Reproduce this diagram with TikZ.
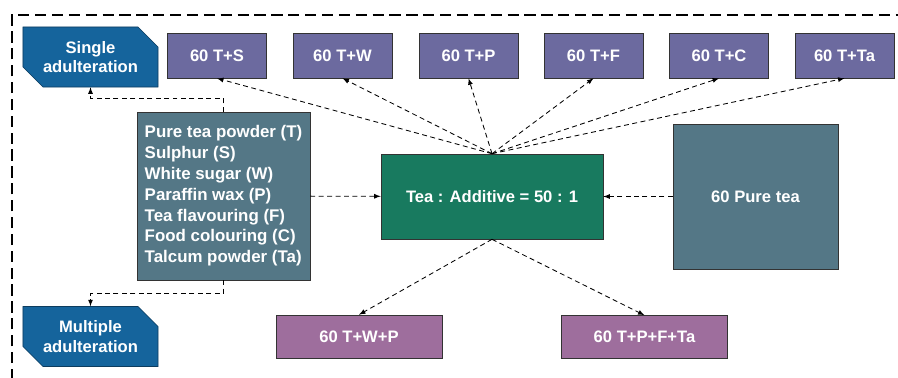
\documentclass[tikz,border=0pt]{standalone}
\usepackage{fontspec}
\setmainfont{Liberation Sans}
\usetikzlibrary{shapes.misc, arrows.meta}
\definecolor{adultblue}{HTML}{15649C}
\definecolor{mixpurple}{HTML}{6C6A9F}
\definecolor{slatebox}{HTML}{547786}
\definecolor{ratiogreen}{HTML}{187A5F}
\definecolor{multipink}{HTML}{9E6E9D}
\tikzstyle{whbox} = [rectangle,
draw=black!80,
text=white,
font=\fontsize{11.8}{14}\selectfont\bfseries,
text centered]
\tikzstyle{singlebox} = [whbox, fill=mixpurple, minimum width=2.475cm, minimum height=1.125cm]
\tikzstyle{multibox} = [whbox, fill=multipink, minimum width=4.15cm, minimum height=1.075cm]
\tikzstyle{kindbox} = [whbox, chamfered rectangle, chamfered rectangle corners={north east, south west},
chamfered rectangle xsep=0.25cm, chamfered rectangle ysep=0.25cm,
fill=adultblue, draw=adultblue!60!black, align=center,
minimum width=3.375cm, minimum height=1.5cm, inner sep=0pt]
\tikzstyle{dasharrow} = [dash pattern=on 3.5pt off 2.5pt, -latex, line width=0.6pt]

\begin{document}
\begin{tikzpicture}[x=0.025cm, y=-0.025cm]
		\useasboundingbox (0,0) rectangle (898,377);
		% outer frame
		\draw [line width=1pt, dash pattern=on 8pt off 4pt] (12,380) -- (12,15) -- (900,15);
		
		\node (single) [kindbox] at (90.5,57) {Single\\adulteration};
		\node (multiple) [kindbox] at (90.5,336.5) {Multiple\\adulteration};
		
		\node (ts) [singlebox] at (217,55.5) {60 T+S};
		\node (tw) [singlebox] at (342.5,55.5) {60 T+W};
		\node (tp) [singlebox] at (468.5,55.5) {60 T+P};
		\node (tf) [singlebox] at (593.5,55.5) {60 T+F};
		\node (tc) [singlebox] at (719,55.5) {60 T+C};
		\node (tta) [singlebox] at (844.5,55.5) {60 T+Ta};
		
		\node (additives) [whbox, fill=slatebox, align=left, inner xsep=0.1cm,
			minimum width=4.325cm, minimum height=4.2cm, font=\fontsize{12}{14.8}\selectfont\bfseries] at (223.5,196)
			{Pure tea powder (T)\\Sulphur (S)\\White sugar (W)\\Paraffin wax (P)\\Tea flavouring (F)\\Food colouring (C)\\Talcum powder (Ta)};
		\node (ratio) [whbox, fill=ratiogreen, minimum width=5.55cm, minimum height=2.125cm] at (492,196.5) {Tea : Additive = 50 : 1};
		\node (puretea) [whbox, fill=slatebox, minimum width=4.125cm, minimum height=3.625cm] at (755.5,196.5) {60 Pure tea};
		
		\node (twp) [multibox] at (359,336.5) {60 T+W+P};
		\node (tpfta) [multibox] at (644.5,337) {60 T+P+F+Ta};
		
		\draw [dasharrow] (additives) -- (ratio);
		\draw [dasharrow] (puretea) -- (ratio);
		\foreach \target in {ts, tw, tp, tf, tc, tta}
			\draw [dasharrow] (ratio.north) -- (\target.south);
		\draw [dasharrow] (ratio.south) -- (twp.north);
		\draw [dasharrow] (ratio.south) -- (tpfta.north);
		\draw [dasharrow] (additives.north) -- ++(0,-13) -| (single.south);
		\draw [dasharrow] (additives.south) -- ++(0,13) -| (multiple.north);
	\end{tikzpicture}
\end{document}
